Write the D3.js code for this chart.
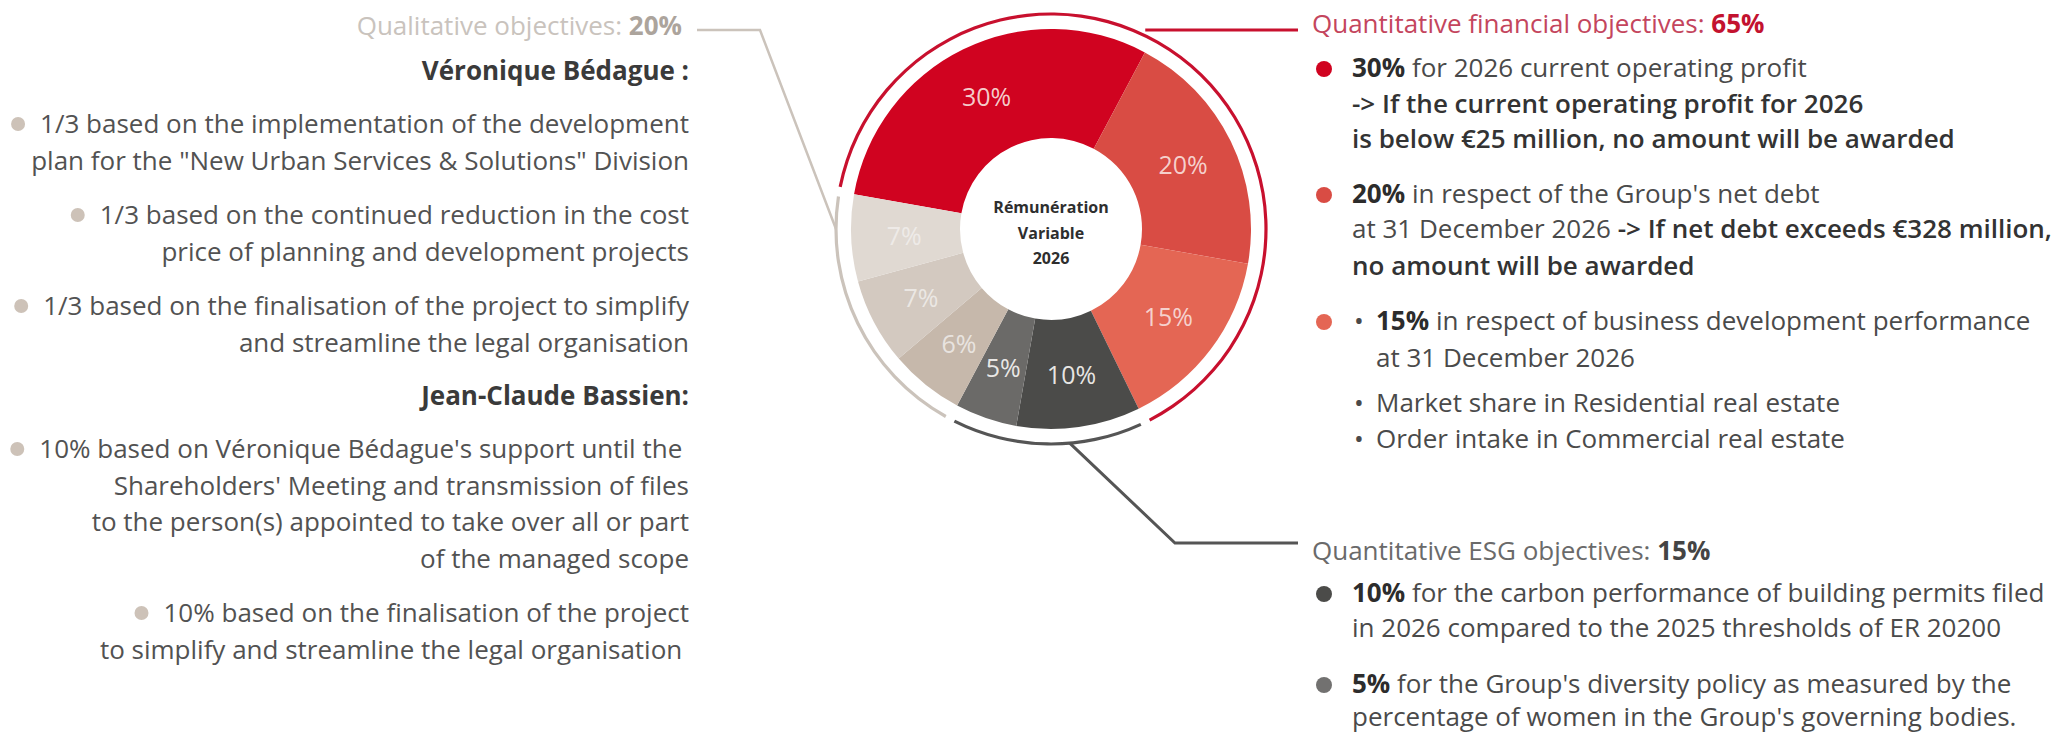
<!DOCTYPE html>
<html>
<head>
<meta charset="utf-8">
<script src="https://cdn.jsdelivr.net/npm/d3@7"></script>
<style>
  html, body { margin: 0; padding: 0; background: #fff; }
  svg { display: block; font-family: "Open Sans", Roboto, "Liberation Sans", Arial, sans-serif; }
  text { white-space: pre; }
</style>
</head>
<body>
<script>
// Slices of the variable pay, clockwise from the left edge of the red slice
const sliceLabels = ["30%", "20%", "15%", "10%", "5%", "6%", "7%", "7%"];
const sliceValues = [30, 20, 15, 10, 5, 6, 7, 7];
const sliceGroups = ["fin", "fin", "fin", "esg", "esg", "qual", "qual", "qual"];
const sliceColors = ["#d00320", "#d94c44", "#e46654", "#4b4b49", "#6b6a68", "#c6b8ab", "#d3c9c0", "#e0d9d2"];

const groupKeys = ["fin", "esg", "qual"];
const groupColors = { fin: "#c8102e", esg: "#555555", qual: "#cbc3bb" };

const centerLines = ["Rémunération", "Variable", "2026"];

// Left block (qualitative objectives), segments are [text, weight]
const qualTitle = [["Qualitative objectives: ", 400], ["20%", 700]];
const qualParas = [
  { kind: "name", lines: ["Véronique Bédague :"] },
  { kind: "item", lines: ["1/3 based on the implementation of the development",
                          "plan for the \"New Urban Services & Solutions\" Division"] },
  { kind: "item", lines: ["1/3 based on the continued reduction in the cost",
                          "price of planning and development projects"] },
  { kind: "item", lines: ["1/3 based on the finalisation of the project to simplify",
                          "and streamline the legal organisation"] },
  { kind: "name", lines: ["Jean-Claude Bassien:"] },
  { kind: "item", lines: ["10% based on Véronique Bédague's support until the ",
                          "Shareholders' Meeting and transmission of files",
                          "to the person(s) appointed to take over all or part",
                          "of the managed scope"] },
  { kind: "item", lines: ["10% based on the finalisation of the project",
                          "to simplify and streamline the legal organisation "] }
];

// Right blocks
const finTitle = [["Quantitative financial objectives: ", 400], ["65%", 700]];
const finItems = [
  { dot: 0, lines: [[["30%", 700], [" for 2026 current operating profit", 400]],
                    [["-> If the current operating profit for 2026", 600]],
                    [["is below €25 million, no amount will be awarded", 600]]] },
  { dot: 1, lines: [[["20%", 700], [" in respect of the Group's net debt", 400]],
                    [["at 31 December 2026 ", 400], ["-> If net debt exceeds €328 million,", 600]],
                    [["no amount will be awarded", 600]]] },
  { dot: 2, bullet: true, lines: [[["15%", 700], [" in respect of business development performance", 400]],
                                  [["at 31 December 2026", 400]]] },
  { bullet: true, lines: [[["Market share in Residential real estate", 400]],
                          [["Order intake in Commercial real estate", 400]]] }
];

const esgTitle = [["Quantitative ESG objectives: ", 400], ["15%", 700]];
const esgItems = [
  { dot: 3, lines: [[["10%", 700], [" for the carbon performance of building permits filed", 400]],
                    [["in 2026 compared to the 2025 thresholds of ER 20200", 400]]] },
  { dot: 4, lines: [[["5%", 700], [" for the Group's diversity policy as measured by the", 400]],
                    [["percentage of women in the Group's governing bodies.", 400]]] }
];

// Sizes
const W = 2054, H = 734;
const cx = 1051, cy = 229;
const rOuter = 200, rInner = 91, rRing = 215, rLabel = 147;
const fontSize = 26, lineH = 36.6;
const deg = Math.PI / 180;

const svg = d3.select("body").append("svg")
  .attr("width", W)
  .attr("height", H);

// Donut
const pie = d3.pie().value(d => d).sort(null)
  .startAngle(-80 * deg).endAngle(280 * deg);
const arcs = pie(sliceValues);
const arc = d3.arc().innerRadius(rInner).outerRadius(rOuter);
const labelArc = d3.arc().innerRadius(rLabel).outerRadius(rLabel);

const donut = svg.append("g").attr("transform", `translate(${cx},${cy})`);

donut.selectAll("path.slice")
  .data(arcs)
  .join("path")
  .attr("class", "slice")
  .attr("d", arc)
  .attr("fill", (d, i) => sliceColors[i]);

donut.selectAll("text.pct")
  .data(arcs)
  .join("text")
  .attr("class", "pct")
  .attr("transform", d => `translate(${labelArc.centroid(d)})`)
  .attr("text-anchor", "middle")
  .attr("dy", "0.36em")
  .attr("font-size", 25)
  .attr("fill", (d, i) => i < 3 ? "#f7d9d6" : "#f2f0ee")
  .attr("fill-opacity", (d, i) => i < 5 ? 0.95 : 0.8)
  .text((d, i) => sliceLabels[i]);

donut.selectAll("text.center")
  .data(centerLines)
  .join("text")
  .attr("class", "center")
  .attr("text-anchor", "middle")
  .attr("y", (d, i) => -16 + i * 25.5)
  .attr("font-size", 16)
  .attr("font-weight", 700)
  .attr("fill", "#2e2e2e")
  .text(d => d);

// Group rings around the donut
const pad = 1.3 * deg;
const ringArc = d3.arc().innerRadius(rRing - 1.6).outerRadius(rRing + 1.6);
const rings = groupKeys.map(k => {
  const parts = arcs.filter((a, i) => sliceGroups[i] === k);
  return {
    key: k,
    startAngle: d3.min(parts, p => p.startAngle) + pad,
    endAngle: d3.max(parts, p => p.endAngle) - pad
  };
});

donut.selectAll("path.ring")
  .data(rings)
  .join("path")
  .attr("class", "ring")
  .attr("d", ringArc)
  .attr("fill", d => groupColors[d.key]);

// point on the ring, angle in degrees clockwise from the top
const ringPoint = a => [cx + rRing * Math.sin(a * deg), cy - rRing * Math.cos(a * deg)];

// Connectors
const line = d3.line();
svg.append("path")
  .attr("d", line([[697, 30], [760, 30], ringPoint(270)]))
  .attr("fill", "none").attr("stroke", groupColors.qual).attr("stroke-width", 2.5);

svg.append("path")
  .attr("d", line([[ringPoint(26)[0], 30], [1298, 30]]))
  .attr("fill", "none").attr("stroke", groupColors.fin).attr("stroke-width", 3);

svg.append("path")
  .attr("d", line([ringPoint(175), [1175, 543], [1298, 543]]))
  .attr("fill", "none").attr("stroke", groupColors.esg).attr("stroke-width", 3);

// text helper: one line made of weighted segments
function addLine(x, y, segs, anchor, colors) {
  const t = svg.append("text")
    .attr("x", x).attr("y", y)
    .attr("text-anchor", anchor)
    .attr("font-size", fontSize);
  segs.forEach(([s, w]) => {
    t.append("tspan")
      .attr("font-weight", w)
      .attr("fill", w >= 700 ? colors.bold : (w >= 500 ? colors.mid : colors.normal))
      .text(s);
  });
  return t;
}

// Left block
const leftX = 689;
const leftColors = { normal: "#525252", mid: "#444", bold: "#3a3a3a" };
addLine(682, 35, qualTitle, "end", { normal: "#c9c3bd", mid: "#c9c3bd", bold: "#aca49c" });

const leftY = [80, 133, 224, 315, 405, 458, 622];
qualParas.forEach((p, pi) => {
  p.lines.forEach((l, li) => {
    const t = addLine(leftX, leftY[pi] + li * lineH, [[l, p.kind === "name" ? 700 : 400]], "end", leftColors);
    if (p.kind === "item" && li === 0) {
      const w = t.node().getComputedTextLength();
      svg.append("circle")
        .attr("cx", leftX - w - 22)
        .attr("cy", leftY[pi] - 9)
        .attr("r", 7)
        .attr("fill", "#cdc2b8");
    }
  });
});

// Right blocks
const rightColors = { normal: "#4a4a4a", mid: "#333", bold: "#2c2c2c" };
const dotColors = ["#d00320", "#d94c44", "#e46654", "#4b4b49", "#727170"];

function addItems(items, ys) {
  items.forEach((it, ii) => {
    const tx = it.bullet ? 1376 : 1352;
    it.lines.forEach((l, li) => {
      const y = ys[ii][li];
      addLine(tx, y, l, "start", rightColors);
      // sub-bullets sit on every line of the last item, first line otherwise
      if (it.bullet && (li === 0 || it.dot === undefined)) {
        addLine(1354, y, [["•", 400]], "start", rightColors);
      }
    });
    if (it.dot !== undefined) {
      svg.append("circle")
        .attr("cx", 1324)
        .attr("cy", ys[ii][0] - 8)
        .attr("r", 8)
        .attr("fill", dotColors[it.dot]);
    }
  });
}

addLine(1312, 33, finTitle, "start", { normal: "#c4455d", mid: "#c4455d", bold: "#c3122f" });
addItems(finItems, [[77, 113, 148], [203, 238, 275], [330, 367], [412, 448]]);

addLine(1312, 560, esgTitle, "start", { normal: "#6a6a6a", mid: "#6a6a6a", bold: "#444" });
addItems(esgItems, [[602, 637], [693, 726]]);
</script>
</body>
</html>
